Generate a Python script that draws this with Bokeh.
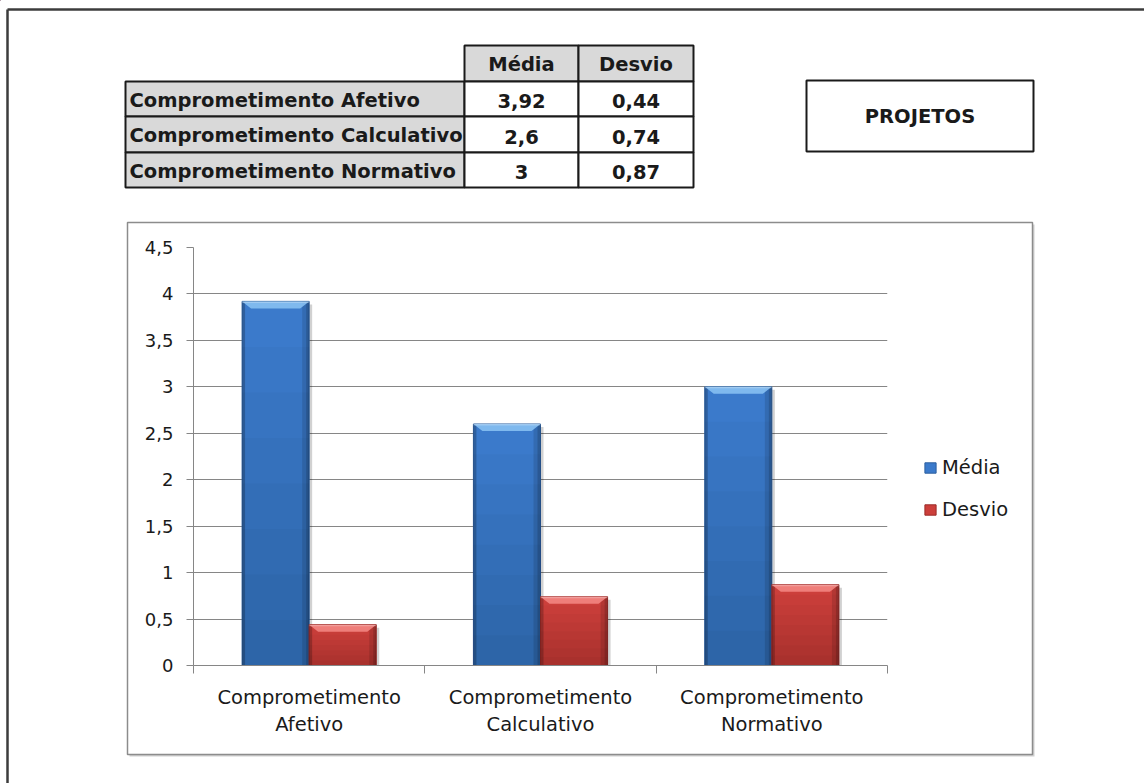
from bokeh.plotting import figure
from bokeh.models import (Range1d, FixedTicker, Legend, LegendItem, ColumnDataSource)
from bokeh.layouts import column
from bokeh.core.properties import value
from bokeh.embed import file_html
from bokeh.resources import INLINE

# ---------------- data ----------------
categories = ["Comprometimento Afetivo", "Comprometimento Calculativo", "Comprometimento Normativo"]
category_axis_labels = ["Comprometimento\nAfetivo", "Comprometimento\nCalculativo", "Comprometimento\nNormativo"]
series_names = ["Média", "Desvio"]
media = [3.92, 2.6, 3]
desvio = [0.44, 0.74, 0.87]
y_ticks = [0, 0.5, 1, 1.5, 2, 2.5, 3, 3.5, 4, 4.5]
y_tick_labels = ["0", "0,5", "1", "1,5", "2", "2,5", "3", "3,5", "4", "4,5"]
panel_title = "PROJETOS"

def fmt(v):
    return f"{v:g}".replace(".", ",")

# ---------------- layout constants (canvas px) ----------------
W, H = 1144, 783
FL, FR, FT, FB = 193, 887, 247, 665
PX_X = 3 / (FR - FL)
PX_Y = 4.5 / (FB - FT)

FONT = "DejaVu Sans"
TXT = "#1a1a1a"
GRID = "#868686"

BAR_W = 0.29
OFFS = [-0.145, 0.145]
colors = [
    dict(base="#3b7acb", edge="#2c5f9f", light="#8cc4f5"),
    dict(base="#cc3f3b", edge="#9b2b28", light="#f58a86"),
]

# =============== background sheet (table, boxes, frames, legend) ===============
bg = figure(width=W, height=H, output_backend="svg", toolbar_location=None,
            x_range=Range1d(0, W), y_range=Range1d(H, 0),
            x_axis_type=None, y_axis_type=None,
            min_border=0, min_border_left=0, min_border_right=0,
            min_border_top=0, min_border_bottom=0,
            background_fill_color="white", border_fill_color="white",
            outline_line_color=None)
bg.frame_align = False
bg.grid.visible = False

bg.multi_line(xs=[[7, 7], [7, W + 5]], ys=[[H + 5, 9], [9, 9]],
              line_color="#3c3c3c", line_width=2.5)
# chart area frame with a faint shadow
bg.quad(left=[129], right=[1034], top=[224], bottom=[756],
        fill_color="#d0d0d0", line_color=None)
bg.quad(left=[127], right=[1032], top=[222], bottom=[754],
        fill_color="white", line_color="#8c8c8c", line_width=1.5)

ROW_Y = [45, 81, 116, 152, 187]
COL_X = [125, 464, 578, 693]
GRAY = "#d9d9d9"

cell_l, cell_r, cell_t, cell_b, cell_c = [], [], [], [], []
tx, ty, tt, ta = [], [], [], []
for c in range(2):
    cell_l.append(COL_X[c + 1]); cell_r.append(COL_X[c + 2])
    cell_t.append(ROW_Y[0]); cell_b.append(ROW_Y[1]); cell_c.append(GRAY)
    tx.append((COL_X[c + 1] + COL_X[c + 2]) / 2); ty.append((ROW_Y[0] + ROW_Y[1]) / 2 + 1)
    tt.append(series_names[c]); ta.append("center")
for r, cat in enumerate(categories):
    y0, y1 = ROW_Y[r + 1], ROW_Y[r + 2]
    cell_l.append(COL_X[0]); cell_r.append(COL_X[1])
    cell_t.append(y0); cell_b.append(y1); cell_c.append(GRAY)
    tx.append(COL_X[0] + 4); ty.append((y0 + y1) / 2 + 1); tt.append(cat); ta.append("left")
    for c, vals in enumerate([media, desvio]):
        cell_l.append(COL_X[c + 1]); cell_r.append(COL_X[c + 2])
        cell_t.append(y0); cell_b.append(y1); cell_c.append("white")
        tx.append((COL_X[c + 1] + COL_X[c + 2]) / 2); ty.append((y0 + y1) / 2 + 2)
        tt.append(fmt(vals[r])); ta.append("center")

bg.quad(left=cell_l, right=cell_r, top=cell_t, bottom=cell_b, fill_color=cell_c,
        line_color="#1a1a1a", line_width=2)
tsrc = ColumnDataSource(dict(x=tx, y=ty, text=tt, align=ta))
bg.text(x="x", y="y", text="text", text_align="align", source=tsrc,
        text_font=value(FONT), text_font_size=value("19.5px"), text_font_style="bold",
        text_color=TXT, text_baseline="middle")

bg.quad(left=[806], right=[1033], top=[80], bottom=[151], fill_color="white",
        line_color="#1a1a1a", line_width=2)
bg.text(x=[919.5], y=[116], text=[panel_title], text_align="center", text_baseline="middle",
        text_font=value(FONT), text_font_size=value("19.5px"), text_font_style="bold",
        text_color=TXT)

# legend swatch renderers (a single point placed off the sheet; used only by the legend)
leg_r = [bg.vbar(x=[-100], top=[-100], bottom=[-110], width=1,
                 fill_color=col["base"], line_color=col["edge"])
         for col in colors]
legend = Legend(items=[LegendItem(label=series_names[0], renderers=[leg_r[0]]),
                       LegendItem(label=series_names[1], renderers=[leg_r[1]])],
                location=(923, 262), orientation="vertical", padding=0, margin=0,
                spacing=19, glyph_width=14, glyph_height=13, label_standoff=5,
                label_height=13, label_text_font=FONT, label_text_font_size="19.5px",
                label_text_color=TXT, border_line_alpha=0, background_fill_alpha=0)
bg.add_layout(legend)

# =============== chart ===============
p = figure(width=W, height=H, output_backend="svg", toolbar_location=None,
           x_range=Range1d(0, 3), y_range=Range1d(0, 4.5),
           min_border_left=FL, min_border_right=W - FR,
           min_border_top=FT, min_border_bottom=H - FB,
           background_fill_alpha=0, border_fill_alpha=0,
           outline_line_color=None)
p.frame_align = False
p.margin = (-H, 0, 0, 0)

xa = p.xaxis[0]
xa.ticker = FixedTicker(ticks=[i + 0.5 for i in range(len(categories))],
                        minor_ticks=list(range(len(categories) + 1)))
xa.major_label_overrides = {i + 0.5: t for i, t in enumerate(category_axis_labels)}
xa.major_tick_out = 0
xa.major_tick_in = 0
xa.major_tick_line_color = None
xa.minor_tick_out = 8
xa.minor_tick_in = 0
xa.minor_tick_line_color = GRID
xa.axis_line_color = GRID
xa.major_label_standoff = 12
xa.major_label_text_font = FONT
xa.major_label_text_font_size = "19.5px"
xa.major_label_text_color = TXT
xa.major_label_text_line_height = 1.18

ya = p.yaxis[0]
ya.ticker = FixedTicker(ticks=y_ticks)
ya.major_label_overrides = {t: l for t, l in zip(y_ticks, y_tick_labels)}
ya.major_tick_out = 7
ya.major_tick_in = 0
ya.minor_tick_out = 0
ya.minor_tick_in = 0
ya.major_label_standoff = 13
ya.axis_line_color = GRID
ya.major_tick_line_color = GRID
ya.major_label_text_font = FONT
ya.major_label_text_font_size = "18px"
ya.major_label_text_color = TXT

p.xgrid.visible = False
p.ygrid.ticker = FixedTicker(ticks=y_ticks)
p.ygrid.grid_line_color = GRID
p.ygrid.grid_line_width = 1

for s, (vals, off, col) in enumerate(zip([media, desvio], OFFS, colors)):
    n_ = len(vals)
    xs = [i + 0.5 + off for i in range(n_)]
    lefts = [x - BAR_W / 2 for x in xs]
    rights = [x + BAR_W / 2 for x in xs]
    p.quad(left=rights, right=[r + 3 * PX_X for r in rights],
           bottom=[0] * n_, top=[v - 3 * PX_Y for v in vals],
           fill_color="#000000", fill_alpha=0.18, line_color=None)
    src = ColumnDataSource(dict(x=xs, top=vals))
    p.vbar(x="x", top="top", width=BAR_W, bottom=0, source=src,
           fill_color=col["base"], line_color=col["edge"], line_width=1)
    n = 8
    for j in range(1, n):
        p.quad(left=lefts, right=rights, bottom=[0] * n_,
               top=[v * j / n for v in vals], fill_color="#000000",
               fill_alpha=0.022, line_color=None)
    p.quad(left=lefts, right=[l + 3 * PX_X for l in lefts], bottom=[0] * n_,
           top=vals, fill_color="#000000", fill_alpha=0.22, line_color=None)
    p.quad(left=[r_ - 7 * PX_X for r_ in rights], right=rights, bottom=[0] * n_,
           top=vals, fill_color="#000000", fill_alpha=0.12, line_color=None)
    p.quad(left=[r_ - 3 * PX_X for r_ in rights], right=rights, bottom=[0] * n_,
           top=vals, fill_color="#000000", fill_alpha=0.15, line_color=None)
    bev_xs = [[l, r_, r_ - 9 * PX_X, l + 9 * PX_X] for l, r_ in zip(lefts, rights)]
    bev_ys = [[v, v, v - 7 * PX_Y, v - 7 * PX_Y] for v in vals]
    p.patches(xs=bev_xs, ys=bev_ys, fill_color=col["light"], fill_alpha=0.85, line_color=None)
    p.quad(left=lefts, right=rights, bottom=[v - 1.5 * PX_Y for v in vals], top=vals,
           fill_color="#ffffff", fill_alpha=0.25, line_color=None)

layout = column(bg, p, spacing=0)
open("out.html", "w").write(file_html(layout, INLINE))
